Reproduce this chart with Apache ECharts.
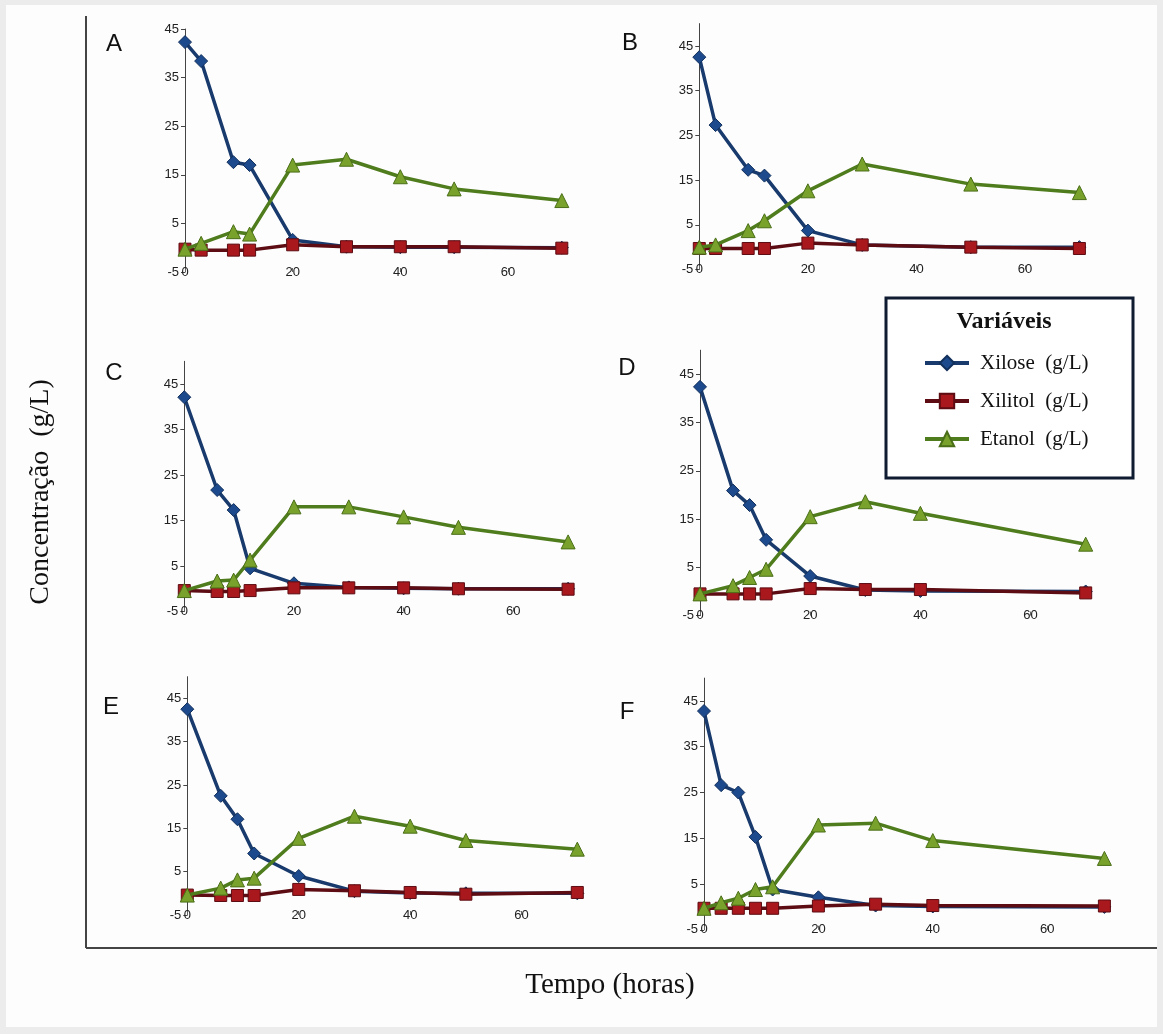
<!DOCTYPE html>
<html>
<head>
<meta charset="utf-8">
<title>Concentração ao longo do tempo</title>
<script src="https://cdn.jsdelivr.net/npm/echarts@6/dist/echarts.min.js"></script>
<style>
  html, body { margin: 0; padding: 0; background: #ececec; }
  #chart { width: 1163px; height: 1034px; }
</style>
</head>
<body>
<div id="chart"></div>
<script>
// Sampling times (h) and concentrations (g/L) for each fermentation run
const timeA    = [0, 3, 9, 12, 20, 30, 40, 50, 70];
const xiloseA  = [42.3, 38.4, 17.6, 17.0, 1.6, 0.2, 0.1, 0.1, 0.0];
const xilitolA = [-0.3, -0.5, -0.5, -0.5, 0.6, 0.2, 0.2, 0.2, -0.1];
const etanolA  = [-0.3, 0.9, 3.3, 2.8, 17.0, 18.2, 14.6, 12.1, 9.7];

const timeB    = [0, 3, 9, 12, 20, 30, 50, 70];
const xiloseB  = [42.5, 27.3, 17.3, 16.0, 3.7, 0.5, 0.0, 0.0];
const xilitolB = [-0.3, -0.3, -0.3, -0.3, 0.9, 0.5, 0.0, -0.3];
const etanolB  = [0.0, 0.5, 3.7, 5.9, 12.6, 18.6, 14.1, 12.2];

const timeC    = [0, 6, 9, 12, 20, 30, 40, 50, 70];
const xiloseC  = [42.1, 21.7, 17.3, 4.5, 1.2, 0.3, 0.1, 0.0, 0.0];
const xilitolC = [-0.4, -0.6, -0.6, -0.4, 0.2, 0.2, 0.2, 0.0, -0.1];
const etanolC  = [-0.4, 1.7, 1.9, 6.3, 18.0, 18.0, 15.8, 13.5, 10.3];

const timeD    = [0, 6, 9, 12, 20, 30, 40, 70];
const xiloseD  = [42.4, 20.9, 17.9, 10.7, 3.2, 0.3, 0.1, 0.0];
const xilitolD = [-0.5, -0.5, -0.5, -0.5, 0.6, 0.4, 0.4, -0.3];
const etanolD  = [-0.5, 1.2, 2.9, 4.6, 15.5, 18.6, 16.2, 9.8];

const timeE    = [0, 6, 9, 12, 20, 30, 40, 50, 70];
const xiloseE  = [42.5, 22.5, 17.1, 9.2, 4.0, 0.5, 0.1, 0.0, 0.0];
const xilitolE = [-0.4, -0.5, -0.5, -0.5, 0.9, 0.6, 0.2, -0.2, 0.2];
const etanolE  = [-0.4, 1.2, 3.1, 3.5, 12.7, 17.8, 15.5, 12.2, 10.2];

const timeF    = [0, 3, 6, 9, 12, 20, 30, 40, 70];
const xiloseF  = [42.8, 26.6, 25.0, 15.3, 3.8, 2.1, 0.3, 0.1, 0.0];
const xilitolF = [-0.3, -0.3, -0.3, -0.3, -0.3, 0.2, 0.6, 0.3, 0.2];
const etanolF  = [-0.3, 0.9, 1.9, 3.8, 4.4, 17.9, 18.3, 14.5, 10.6];

// Series names, axis tick labels and panel letters
const seriesNames = ['Xilose  (g/L)', 'Xilitol  (g/L)', 'Etanol  (g/L)'];
const yTicks = [-5, 5, 15, 25, 35, 45];
const xTicks = [0, 20, 40, 60];
const panelLetters = ['A', 'B', 'C', 'D', 'E', 'F'];
const yTopValues = [45, 50, 50, 50, 50, 50];

const panelData = [
  { t: timeA, ys: [xiloseA, xilitolA, etanolA] },
  { t: timeB, ys: [xiloseB, xilitolB, etanolB] },
  { t: timeC, ys: [xiloseC, xilitolC, etanolC] },
  { t: timeD, ys: [xiloseD, xilitolD, etanolD] },
  { t: timeE, ys: [xiloseE, xilitolE, etanolE] },
  { t: timeF, ys: [xiloseF, xilitolF, etanolF] }
];

// Plot-area boxes and letter positions for the 3x2 panel layout
const panelBoxes = [
  { left: 185,   top: 29,    width: 376.8, height: 243,   lx: 114, ly: 44 },
  { left: 699.3, top: 23.6,  width: 380.1, height: 245.9, lx: 630, ly: 43 },
  { left: 184.3, top: 361.3, width: 383.8, height: 250.2, lx: 114, ly: 373 },
  { left: 700,   top: 350.2, width: 385.7, height: 265.4, lx: 627, ly: 368 },
  { left: 187.3, top: 676.7, width: 390,   height: 238.3, lx: 111, ly: 707 },
  { left: 704,   top: 678.1, width: 400.4, height: 251.7, lx: 627, ly: 712 }
];

// Visual style per variable
const seriesStyles = [
  { symbol: 'diamond',  size: 13, line: '#183a6c', fill: '#1d4a8c', border: '#12305c' },
  { symbol: 'rect',     size: 12, line: '#5c0c12', fill: '#a8181d', border: '#5c0c12' },
  { symbol: 'triangle', size: 14, line: '#4f7c1c', fill: '#78a22b', border: '#4a6e18' }
];

const tickFont = { fontFamily: 'Liberation Sans, Arial, sans-serif', fontSize: 13, color: '#222' };
const serifFont = 'Liberation Serif, Times New Roman, serif';

const grids = [], xAxes = [], yAxes = [], series = [];

panelData.forEach((p, i) => {
  const b = panelBoxes[i];
  grids.push({ left: b.left, top: b.top, width: b.width, height: b.height, containLabel: false });
  xAxes.push({
    type: 'value', gridIndex: i, min: 0, max: 70,
    axisLine: { show: false, onZero: false },
    axisTick: { show: true, inside: true, length: 4, customValues: xTicks, lineStyle: { color: '#666' } },
    axisLabel: Object.assign({ customValues: xTicks, verticalAlign: 'middle', margin: 0 }, tickFont),
    splitLine: { show: false }
  });
  yAxes.push({
    type: 'value', gridIndex: i, min: -5, max: yTopValues[i],
    axisLine: { show: true, onZero: false, lineStyle: { color: '#444', width: 1 } },
    axisTick: { show: true, length: 4, customValues: yTicks, lineStyle: { color: '#444' } },
    axisLabel: Object.assign({ customValues: yTicks, margin: 6 }, tickFont),
    splitLine: { show: false }
  });
  p.ys.forEach((vals, k) => {
    const s = seriesStyles[k];
    series.push({
      name: seriesNames[k],
      type: 'line',
      xAxisIndex: i, yAxisIndex: i,
      data: p.t.map((x, j) => [x, vals[j]]),
      symbol: s.symbol,
      symbolSize: s.size,
      showAllSymbol: true,
      clip: false,
      lineStyle: { color: s.line, width: 3.5 },
      itemStyle: { color: s.fill, borderColor: s.border, borderWidth: 1 },
      emphasis: { disabled: true },
      z: 2 + k
    });
  });
});

const graphics = [
  { type: 'rect', z: -10, shape: { x: 6, y: 5, width: 1151, height: 1022 }, style: { fill: '#fdfdfd' } },
  // outer frame of the figure
  { type: 'line', shape: { x1: 86, y1: 16, x2: 86, y2: 948 }, style: { stroke: '#444', lineWidth: 2 } },
  { type: 'line', shape: { x1: 86, y1: 948, x2: 1157, y2: 948 }, style: { stroke: '#444', lineWidth: 2 } },
  // legend box and heading
  { type: 'rect', shape: { x: 886, y: 298, width: 247, height: 180 }, style: { fill: '#fff', stroke: '#0f1b30', lineWidth: 3 }, z: 5 },
  { type: 'text', x: 1004, y: 322, z: 6, style: { text: 'Variáveis', fontFamily: serifFont, fontWeight: 'bold', fontSize: 24, fill: '#111', align: 'center', verticalAlign: 'middle' } },
  // axis titles
  { type: 'text', x: 41, y: 492, rotation: Math.PI / 2, style: { text: 'Concentração  (g/L)', fontFamily: serifFont, fontSize: 28, fill: '#111', align: 'center', verticalAlign: 'middle' } },
  { type: 'text', x: 610, y: 985, style: { text: 'Tempo (horas)', fontFamily: serifFont, fontSize: 29, fill: '#111', align: 'center', verticalAlign: 'middle' } }
];

panelBoxes.forEach((b, i) => {
  graphics.push({
    type: 'text', x: b.lx, y: b.ly,
    style: { text: panelLetters[i], fontFamily: 'Liberation Sans, Arial, sans-serif', fontSize: 24, fill: '#111', align: 'center', verticalAlign: 'middle' }
  });
});

const chart = echarts.init(document.getElementById('chart'), null, { renderer: 'canvas' });
chart.setOption({
  backgroundColor: '#ececec',
  animation: false,
  grid: grids,
  xAxis: xAxes,
  yAxis: yAxes,
  series: series,
  legend: {
    data: seriesNames,
    orient: 'vertical',
    left: 923, top: 352,
    padding: 0,
    itemWidth: 44, itemHeight: 18, itemGap: 16,
    selectedMode: false,
    z: 7,
    lineStyle: { width: 4 },
    textStyle: { fontFamily: serifFont, fontSize: 21, color: '#111', lineHeight: 22, padding: [0, 0, 0, 6] }
  },
  graphic: graphics
});
</script>
</body>
</html>
